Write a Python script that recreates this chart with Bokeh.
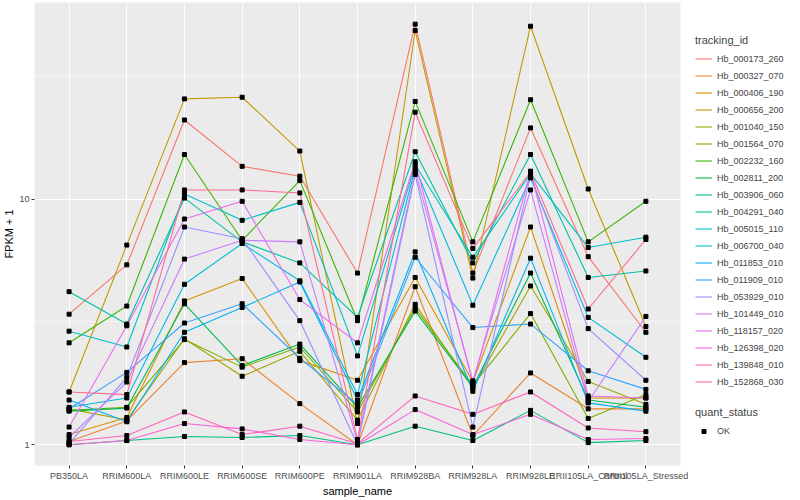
from bokeh.plotting import figure
from bokeh.layouts import row
from bokeh.models import Range1d, FixedTicker, Legend, LegendItem
from bokeh.embed import file_html
from bokeh.resources import INLINE

samples = ["PB350LA", "RRIM600LA", "RRIM600LE", "RRIM600SE", "RRIM600PE",
           "RRIM901LA", "RRIM928BA", "RRIM928LA", "RRIM928LE",
           "RRII105LA_Control", "RRII105LA_Stressed"]

tracking_ids = ["Hb_000173_260", "Hb_000327_070", "Hb_000406_190", "Hb_000656_200",
                "Hb_001040_150", "Hb_001564_070", "Hb_002232_160", "Hb_002811_200",
                "Hb_003906_060", "Hb_004291_040", "Hb_005015_110", "Hb_006700_040",
                "Hb_011853_010", "Hb_011909_010", "Hb_053929_010", "Hb_101449_010",
                "Hb_118157_020", "Hb_126398_020", "Hb_139848_010", "Hb_152868_030"]

colors = ["#F8766D", "#EA8331", "#D89000", "#C09B00", "#A3A500", "#7CAE00", "#39B600",
          "#00BB4E", "#00BF7D", "#00C1A3", "#00BFC4", "#00BAE0", "#00B0F6", "#35A2FF",
          "#9590FF", "#C77CFF", "#E76BF3", "#FA62DB", "#FF62BC", "#FF6C91"]

# FPKM + 1 per sample (same order as samples)
hb_000173_260 = [3.4, 5.4, 21.0, 13.6, 12.4, 5.0, 51.6, 5.0, 19.5, 5.83, 2.87]
hb_000327_070 = [1.03, 1.25, 2.16, 2.24, 1.47, 1.0, 4.4, 1.09, 1.96, 1.4, 1.4]
hb_000406_190 = [1.1, 1.29, 3.85, 4.75, 2.2, 1.83, 4.8, 1.8, 7.7, 1.55, 1.55]
hb_000656_200 = [1.64, 6.5, 25.6, 26.0, 15.7, 1.22, 48.6, 4.77, 50.6, 11.0, 3.03]
hb_001040_150 = [1.4, 1.26, 2.7, 1.9, 2.4, 1.26, 3.73, 1.7, 4.43, 1.81, 1.46]
hb_001564_070 = [1.38, 1.42, 2.68, 2.07, 2.5, 1.36, 3.6, 1.75, 3.42, 1.28, 1.6]
hb_002232_160 = [2.6, 3.67, 15.2, 6.8, 11.9, 3.2, 25.0, 6.7, 25.4, 6.7, 9.8]
hb_002811_200 = [1.37, 1.41, 3.75, 2.1, 2.57, 1.42, 3.5, 1.72, 5.0, 1.52, 1.42]
hb_003906_060 = [1.0, 1.04, 1.08, 1.07, 1.09, 1.0, 1.19, 1.04, 1.38, 1.02, 1.04]
hb_004291_040 = [4.2, 3.1, 10.1, 6.7, 5.5, 3.3, 15.6, 5.5, 15.2, 4.8, 5.1]
hb_005015_110 = [2.9, 2.5, 10.5, 8.2, 9.7, 2.3, 13.8, 5.8, 12.7, 6.35, 7.0]
hb_006700_040 = [1.42, 1.55, 4.5, 6.6, 4.65, 1.6, 13.4, 3.7, 12.2, 3.3, 2.27]
hb_011853_010 = [1.52, 1.24, 2.87, 3.62, 4.6, 1.52, 6.1, 1.65, 5.75, 1.48, 1.37]
hb_011909_010 = [1.40, 1.97, 3.13, 3.75, 2.25, 1.46, 5.8, 3.0, 3.1, 2.0, 1.68]
hb_053929_010 = [1.01, 1.88, 7.7, 6.9, 3.2, 1.0, 12.6, 1.18, 12.5, 2.97, 1.83]
hb_101449_010 = [1.07, 1.8, 5.7, 6.8, 6.7, 1.03, 13.0, 1.82, 10.9, 1.5, 3.33]
hb_118157_020 = [1.18, 3.05, 8.3, 9.8, 3.9, 2.6, 14.2, 1.78, 13.0, 1.58, 1.55]
hb_126398_020 = [1.0, 1.04, 1.22, 1.16, 1.05, 1.0, 1.39, 1.1, 1.33, 1.05, 1.06]
hb_139848_010 = [1.03, 1.09, 1.36, 1.1, 1.19, 1.01, 1.58, 1.33, 1.64, 1.17, 1.13]
hb_152868_030 = [1.64, 1.6, 10.9, 10.9, 10.6, 1.05, 22.6, 6.3, 12.9, 3.57, 6.85]

series = [hb_000173_260, hb_000327_070, hb_000406_190, hb_000656_200, hb_001040_150,
          hb_001564_070, hb_002232_160, hb_002811_200, hb_003906_060, hb_004291_040,
          hb_005015_110, hb_006700_040, hb_011853_010, hb_011909_010, hb_053929_010,
          hb_101449_010, hb_118157_020, hb_126398_020, hb_139848_010, hb_152868_030]

quant_status = "OK"

FONT = "Liberation Sans"
xs = list(range(1, len(samples) + 1))

p = figure(frame_width=646, frame_height=463, y_axis_type="log",
           x_range=Range1d(0.4, len(samples) + 0.6), y_range=Range1d(0.823, 63.2),
           output_backend="svg", toolbar_location=None,
           min_border_left=0, min_border_top=2, min_border_bottom=0, min_border_right=8)
p.outline_line_color = None
p.background_fill_color = "#EBEBEB"
p.border_fill_color = "white"

for tid, col, vals in zip(tracking_ids, colors, series):
    p.line(xs, vals, line_color=col, line_width=1.1)

all_x = [x for vals in series for x in xs]
all_y = [v for vals in series for v in vals]
p.scatter(all_x, all_y, marker="square", size=4, color="black")

# axes
p.xaxis.ticker = FixedTicker(ticks=xs)
p.xaxis.major_label_overrides = {x: s for x, s in zip(xs, samples)}
p.yaxis.ticker = FixedTicker(ticks=[1, 10], minor_ticks=[10 ** 0.5, 10 ** 1.5])
p.yaxis.major_label_overrides = {1: "1", 10: "10"}
p.xaxis.axis_label = "sample_name"
p.yaxis.axis_label = "FPKM + 1"
for ax in (p.xaxis, p.yaxis):
    ax.axis_line_color = None
    ax.major_tick_out = 3
    ax.major_tick_in = 0
    ax.minor_tick_out = 0
    ax.minor_tick_in = 0
    ax.major_tick_line_color = "#333333"
    ax.major_label_text_font = FONT
    ax.major_label_text_font_size = "9px"
    ax.major_label_text_color = "#4D4D4D"
    ax.major_label_standoff = 2
    ax.axis_label_text_font = FONT
    ax.axis_label_text_font_size = "11px"
    ax.axis_label_text_font_style = "normal"
    ax.axis_label_text_color = "black"
p.yaxis.axis_label_standoff = 1
p.xaxis.axis_label_standoff = 1

p.xgrid.grid_line_color = "white"
p.xgrid.grid_line_width = 1
p.ygrid.grid_line_color = "white"
p.ygrid.grid_line_width = 1
p.ygrid.minor_grid_line_color = "white"
p.ygrid.minor_grid_line_width = 0.5

# legend panel (separate figure holding the two legends); its frame lines up with p's
lf = figure(frame_width=100, frame_height=463, x_range=Range1d(0, 1), y_range=Range1d(0, 1),
            output_backend="svg", toolbar_location=None,
            x_axis_location=None, y_axis_location=None,
            min_border_left=0, min_border_right=0, min_border_top=2, min_border_bottom=0)
lf.outline_line_color = None
lf.xgrid.visible = False
lf.ygrid.visible = False
lf.background_fill_color = "white"

# legend-key renderers: data lie outside the panel's range, only their keys show
off = [5, 6]
items = []
for tid, col in zip(tracking_ids, colors):
    r = lf.line(off, off, line_color=col, line_width=1.1)
    items.append(LegendItem(label=tid, renderers=[r]))
pr = lf.scatter(off, off, marker="square", size=4, color="black")


def style_legend(leg):
    leg.glyph_width = 17
    leg.glyph_height = 17
    leg.label_height = 17
    leg.label_standoff = 5
    leg.spacing = 0
    leg.padding = 0
    leg.margin = 0
    leg.label_text_font = FONT
    leg.label_text_font_size = "9px"
    leg.title_text_font = FONT
    leg.title_text_font_size = "11px"
    leg.title_text_font_style = "normal"
    leg.title_standoff = 4
    leg.background_fill_alpha = 0
    leg.border_line_color = None


leg1 = Legend(items=items, title="tracking_id", location=(7, 75))
style_legend(leg1)
lf.add_layout(leg1)

leg2 = Legend(items=[LegendItem(label=quant_status, renderers=[pr])],
              title="quant_status", location=(7, 26))
style_legend(leg2)
leg2.glyph_height = 10
lf.add_layout(leg2)

layout = row(p, lf)
open("out.html", "w").write(file_html(layout, INLINE))
